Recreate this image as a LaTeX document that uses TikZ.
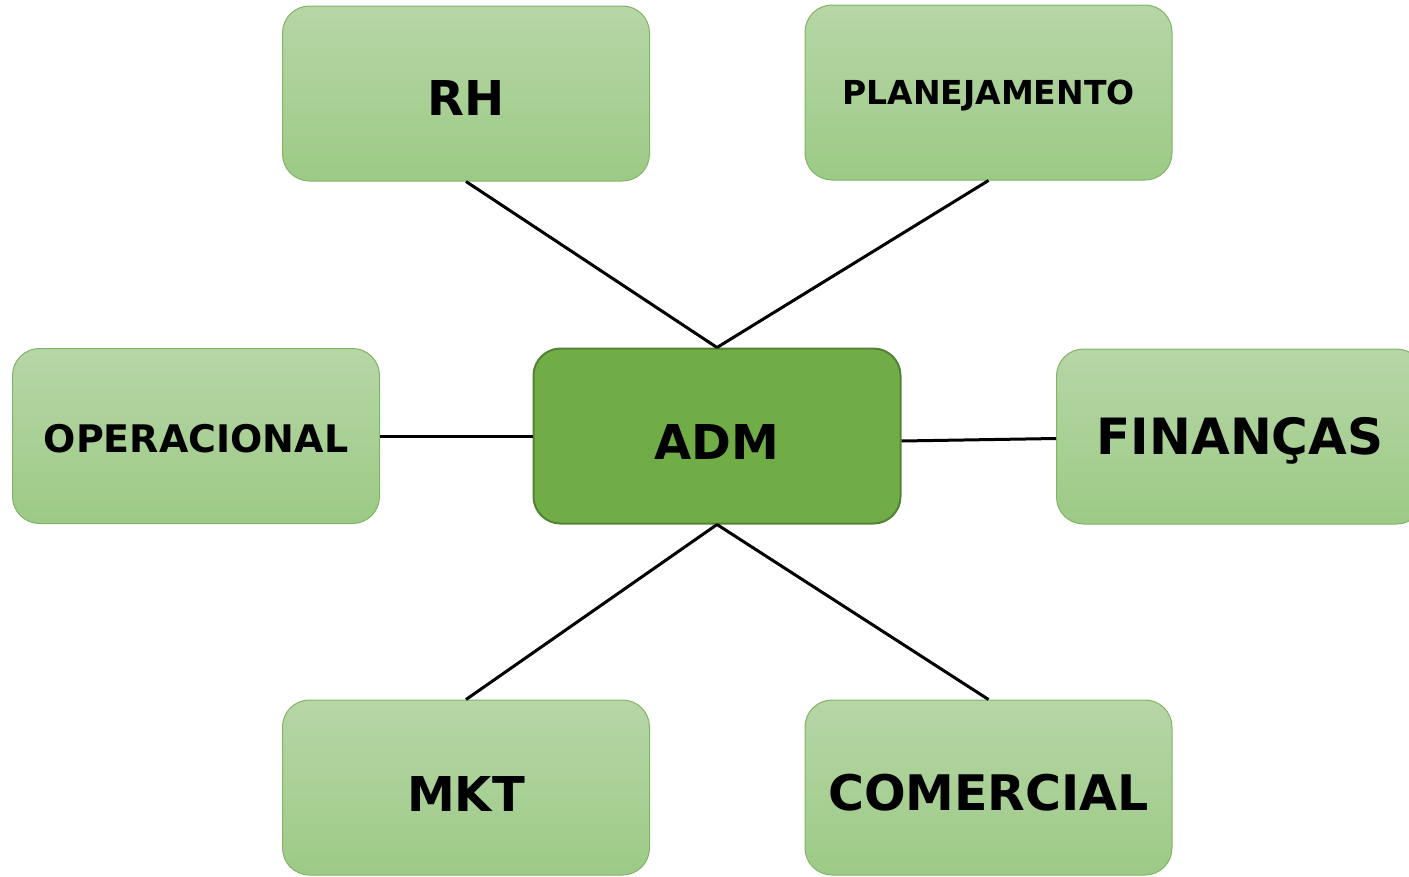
\documentclass[tikz,border=0pt]{standalone}
\usepackage{fontspec}
\setmainfont{DejaVu Sans}
\usetikzlibrary{positioning}

\definecolor{boxtop}{HTML}{B6D6A6}
\definecolor{boxbottom}{HTML}{9DCA86}
\definecolor{boxline}{HTML}{82B366}
\definecolor{admfill}{HTML}{70AD47}
\definecolor{admline}{HTML}{548235}

% tamanho, deslocamento vertical, texto
\newcommand{\rotulo}[3]{\fontsize{#1}{#1}\selectfont\raisebox{#2}[0.73em][0pt]{#3}}

\tikzset{
    setor/.style={rectangle, rounded corners=27pt, draw=boxline, line width=1pt,
        top color=boxtop, bottom color=boxbottom,
        minimum width=367pt, minimum height=175pt, inner sep=0pt,
        font=\bfseries},
    central/.style={setor, fill=admfill, top color=admfill, bottom color=admfill,
        draw=admline, line width=2pt},
    ligacao/.style={line width=3pt}
}

\begin{document}
\begin{tikzpicture}[x=1pt,y=-1pt]
            \useasboundingbox (0,0) rectangle (1409,876);
            % caixas
            \node[central] (adm) at (717,436) {\rotulo{48}{-6pt}{ADM}};
            \node[setor] (rh) at (466,93.5) {\rotulo{48}{-4pt}{RH}};
            \node[setor] (plan) at (988.5,92.5) {\rotulo{33}{0pt}{PLANEJAMENTO}};
            \node[setor] (oper) at (196,436) {\rotulo{38}{-3pt}{OPERACIONAL}};
            \node[setor] (fin) at (1240,436.5) {\rotulo{50}{0pt}{FINANÇAS}};
            \node[setor] (mkt) at (466,787.5) {\rotulo{48}{-6pt}{MKT}};
            \node[setor] (com) at (988.5,787.5) {\rotulo{49}{-5pt}{COMERCIAL}};
            % ligacoes
            \draw[ligacao] (rh.south) -- (adm.north);
            \draw[ligacao] (plan.south) -- (adm.north);
            \draw[ligacao] (oper.east) -- (adm.west);
            \draw[ligacao] ([yshift=-5pt]adm.east) -- ([yshift=-2pt]fin.west);
            \draw[ligacao] (adm.south) -- (mkt.north);
            \draw[ligacao] (adm.south) -- (com.north);
        \end{tikzpicture}
\end{document}
